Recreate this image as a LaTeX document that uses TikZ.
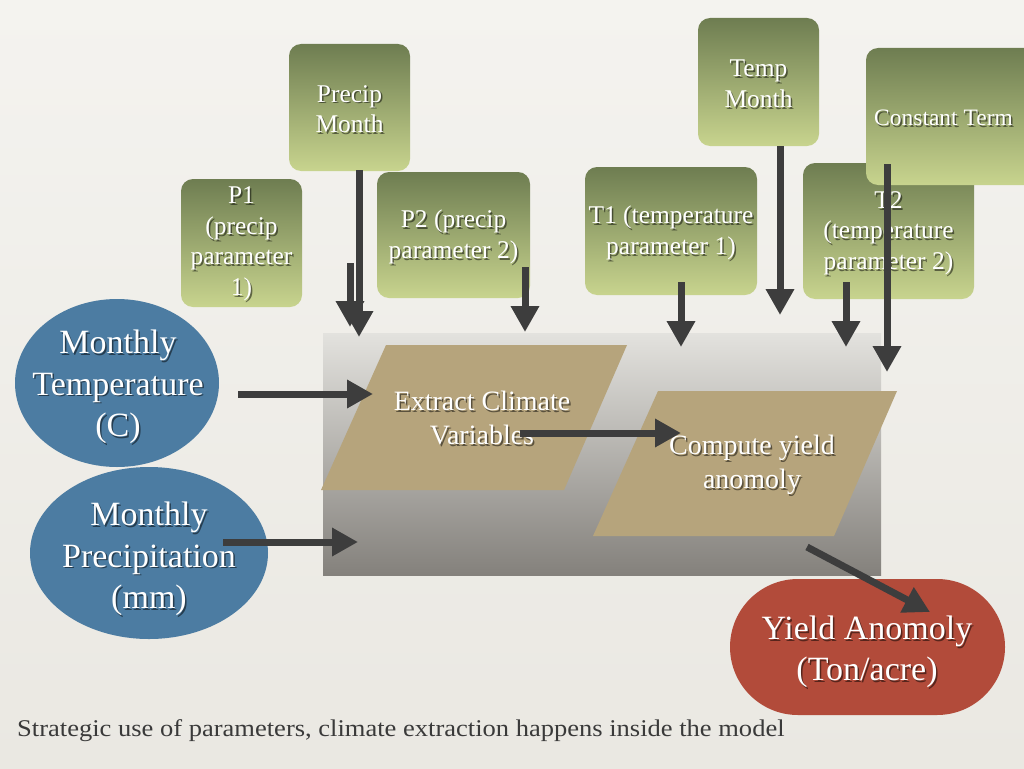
\documentclass[tikz,border=0pt]{standalone}
\usepackage{fontspec}
\setmainfont{Liberation Serif}
\usetikzlibrary{arrows.meta,shapes.geometric}
\definecolor{bgtop}{HTML}{F4F3EF}
\definecolor{bgbot}{HTML}{EAE8E2}
\definecolor{gtop}{HTML}{6E7D51}
\definecolor{gbot}{HTML}{C8D48E}
\definecolor{blueell}{HTML}{4C7CA2}
\definecolor{redst}{HTML}{B24B3A}
\definecolor{tanfill}{HTML}{B6A47C}
\definecolor{arrc}{HTML}{3D3D3D}
\definecolor{graytop}{HTML}{E3E2DE}
\definecolor{graybot}{HTML}{84817C}
\definecolor{capc}{HTML}{3A3A3A}
\tikzset{
  greenbox/.style={rounded corners=12pt, top color=gtop, bottom color=gbot, draw=none, inner sep=0pt},
  ellbox/.style={ellipse, fill=blueell, draw=none, inner sep=0pt},
  flowarrow/.style={draw=arrc, line width=7pt, -{Triangle[width=27pt,length=26pt]}},
  ptxt/.style={align=center, font=\fontsize{25.5}{30.5}\selectfont, inner sep=0pt},
  etxt/.style={align=center, font=\fontsize{34}{41.5}\selectfont, inner sep=0pt},
  ftxt/.style={align=center, font=\fontsize{28}{34}\selectfont, inner sep=0pt},
}
\newcommand\shtxt[4]{%
  \node[#3, text=black, opacity=0.5] at ([shift={(1.5,1.8)}]#2) {#4};
  \node[#3, text=white] (#1) at (#2) {#4};
}
\begin{document}
\begin{tikzpicture}[x=1pt,y=-1pt]
\useasboundingbox (0,0) rectangle (1024,768);
\clip (0,0) rectangle (1024,768);
\shade[top color=bgtop, bottom color=bgbot] (0,0) rectangle (1024,768);

% model area
\node[top color=graytop, bottom color=graybot, draw=none, minimum width=558pt, minimum height=242pt, inner sep=0pt] (model) at (602,454) {};

% parallelograms
\coordinate (e1) at (386,345); \coordinate (e2) at (627,345);
\coordinate (e3) at (564,490); \coordinate (e4) at (321,490);
\fill[tanfill] (e1) -- (e2) -- (e3) -- (e4) -- cycle;
\coordinate (c1) at (658,391); \coordinate (c2) at (897,391);
\coordinate (c3) at (834,536); \coordinate (c4) at (593,536);
\fill[tanfill] (c1) -- (c2) -- (c3) -- (c4) -- cycle;
\shtxt{extract}{482,418}{ftxt}{Extract Climate\\Variables}
\shtxt{compute}{752,465}{ftxt}{Compute yield\\anomoly}

% ellipses
\node[ellbox, minimum width=204pt, minimum height=168pt] (mt) at (117,383) {};
\node[ellbox, minimum width=238pt, minimum height=172pt] (mp) at (149,553) {};
\shtxt{mttxt}{118,387}{etxt}{Monthly\\Temperature\\(C)}
\shtxt{mptxt}{149,559}{etxt}{Monthly\\Precipitation\\(mm)}

% yield
\node[fill=redst, rounded corners=68pt, minimum width=275pt, minimum height=136pt, inner sep=0pt] (ya) at (867.5,647) {};
\shtxt{yatxt}{867,652}{etxt}{Yield Anomoly\\(Ton/acre)}

% parameter boxes
\node[greenbox, minimum width=121pt, minimum height=127pt] (pm) at (349.5,107.5) {};
\shtxt{pmtxt}{349.5,109}{ptxt}{Precip\\Month}
\node[greenbox, minimum width=121pt, minimum height=128pt] (p1) at (241.5,243) {};
\shtxt{p1txt}{241.5,244}{ptxt}{P1\\(precip\\parameter\\1)}
\node[greenbox, minimum width=153pt, minimum height=126pt] (p2) at (453.5,235) {};
\shtxt{p2txt}{453.5,237}{ptxt}{P2 (precip\\parameter 2)}
\node[greenbox, minimum width=172pt, minimum height=128pt] (t1) at (671,231) {};
\shtxt{t1txt}{671,233}{ptxt}{T1 (temperature\\parameter 1)}
\node[greenbox, minimum width=121pt, minimum height=128pt] (tm) at (758.5,82) {};
\shtxt{tmtxt}{758.5,84}{ptxt}{Temp\\Month}
\node[greenbox, minimum width=171pt, minimum height=136pt] (t2) at (888.5,231) {};
\shtxt{t2txt}{888.5,233}{ptxt}{T2\\(temperature\\parameter 2)}
\node[greenbox, minimum width=190pt, minimum height=137pt] (ct) at (961,116.5) {};
\node[ptxt, font=\fontsize{23.5}{28}\selectfont, anchor=west, text=black, opacity=0.5] at (875.5,119.8) {Constant Term};
\node[ptxt, font=\fontsize{23.5}{28}\selectfont, anchor=west, text=white] (cttxt) at (874,118) {Constant Term};

% arrow end points
\coordinate (apm1) at (359,170); \coordinate (apm2) at (359,337);
\coordinate (ap11) at (350,263); \coordinate (ap12) at (350,327);
\coordinate (ap21) at (525,267); \coordinate (ap22) at (525,332);
\coordinate (at11) at (681,282); \coordinate (at12) at (681,347);
\coordinate (atm1) at (780,146); \coordinate (atm2) at (780,315);
\coordinate (at21) at (846,282); \coordinate (at22) at (846,347);
\coordinate (act1) at (887,164); \coordinate (act2) at (887,372);
\coordinate (aex1) at (520,433); \coordinate (aex2) at (681,433);
\coordinate (acy1) at (807,547); \coordinate (acy2) at (930,612);
\coordinate (amt1) at (238,394); \coordinate (amt2) at (373,394);
\coordinate (amp1) at (223,542); \coordinate (amp2) at (358,542);

\draw[flowarrow] (ap11) -- (ap12);
\draw[flowarrow] (apm1) -- (apm2);
\draw[flowarrow] (ap21) -- (ap22);
\draw[flowarrow] (at11) -- (at12);
\draw[flowarrow] (atm1) -- (atm2);
\draw[flowarrow] (at21) -- (at22);
\draw[flowarrow] (act1) -- (act2);
\draw[flowarrow] (aex1) -- (aex2);
\draw[flowarrow] (acy1) -- (acy2);
\draw[flowarrow] (amt1) -- (amt2);
\draw[flowarrow] (amp1) -- (amp2);

% caption
\node[anchor=west, text=capc, font=\fontsize{24}{28}\selectfont, inner sep=0pt] (cap) at (17,731) {\scalebox{1.105}[1]{Strategic use of parameters, climate extraction happens inside the model}};
\end{tikzpicture}
\end{document}
